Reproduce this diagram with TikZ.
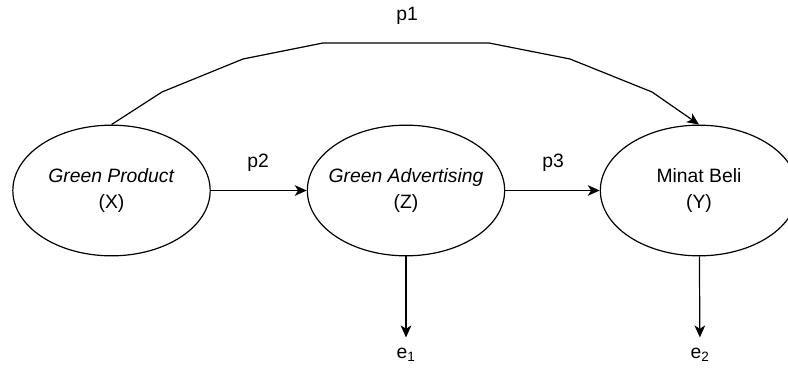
\documentclass[tikz,border=0pt]{standalone}
\usepackage{fontspec}
\setmainfont{Liberation Sans}
\usetikzlibrary{arrows.meta,shapes.geometric}

\tikzset{
  latent/.style={draw, ellipse, line width=0.9pt, minimum width=148pt, minimum height=98pt,
    inner xsep=-10pt, inner ysep=0pt, align=center, font=\fontsize{14.5}{19}\selectfont},
  lbl/.style={font=\fontsize{14.5}{17}\selectfont, inner sep=1pt},
  err/.style={lbl, inner ysep=8pt},
  effect/.style={draw, line width=0.9pt, -{Stealth[length=9pt,width=8pt,inset=2.5pt]}},
}

\begin{document}
\begin{tikzpicture}[x=0.75pt,y=-0.75pt]
  \useasboundingbox (0,0) rectangle (788,371);

  \node[latent] (X) at (111.5,190.5) {\textit{Green Product}\\(X)};
  \node[latent] (Z) at (406,190.5) {\textit{Green Advertising}\\(Z)};
  \node[latent] (Y) at (699,190.5) {Minat Beli\\(Y)};

  \node[err] (e1) at (406,355) {e\textsubscript{1}};
  \node[err] (e2) at (700,355) {e\textsubscript{2}};

  % bends of the direct path
  \coordinate (b1) at (162,92);
  \coordinate (b2) at (243,59);
  \coordinate (b3) at (323,43);
  \coordinate (b4) at (489,43);
  \coordinate (b5) at (570,59);
  \coordinate (b6) at (652,92);

  \draw[effect] (X.north) -- (b1) -- (b2) -- (b3) -- (b4) -- (b5) -- (b6) -- (Y.north);
  \draw[effect] (X) -- (Z);
  \draw[effect] (Z) -- (Y);
  \draw[effect] (Z) -- (e1);
  \draw[effect] (Y) -- (e2);

  \node[lbl] (lp1) at (407,16) {p1};
  \node[lbl] (lp2) at (258,163) {p2};
  \node[lbl] (lp3) at (553,163) {p3};
\end{tikzpicture}
\end{document}
